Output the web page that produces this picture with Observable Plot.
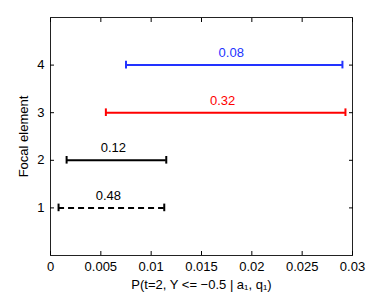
<!DOCTYPE html>
<html><head><meta charset="utf-8">
<script src="https://cdn.jsdelivr.net/npm/d3@7"></script>
<script src="https://cdn.jsdelivr.net/npm/@observablehq/plot@0.6"></script>
<style>body{margin:0;background:#fff;} svg{font-family:"Liberation Sans",Arial,sans-serif;}</style>
</head><body><div id="chart"></div>
<script>
const elements = [1, 2, 3, 4];
const lower = [0.0008, 0.0016, 0.0055, 0.0075];
const upper = [0.0113, 0.0115, 0.0293, 0.0290];
const masses = ["0.48", "0.12", "0.32", "0.08"];
const xTicks = [0, 0.005, 0.01, 0.015, 0.02, 0.025, 0.03];
const xTickLabels = ["0", "0.005", "0.01", "0.015", "0.02", "0.025", "0.03"];
const yTicks = [1, 2, 3, 4];
const yTickLabels = ["1", "2", "3", "4"];

const rows = elements.map((e, i) => ({element: e, lo: lower[i], hi: upper[i], mass: masses[i]}));
const colorScale = {type: "ordinal", domain: elements, range: ["#000000", "#000000", "#ff0000", "#2233ff"]};
const cap = 0.08;

const chart = Plot.plot({
  width: 388, height: 292,
  marginLeft: 50, marginRight: 36, marginTop: 17, marginBottom: 37,
  style: {fontSize: "13px", fontFamily: "Liberation Sans, Arial, sans-serif", color: "#000"},
  x: {domain: [0, 0.03]},
  y: {domain: [0, 5]},
  color: colorScale,
  marks: [
    Plot.frame({stroke: "#222", strokeWidth: 1}),
    Plot.axisX({ticks: xTicks, tickFormat: d => xTickLabels[xTicks.indexOf(d)], tickSize: -4, tickPadding: 10, label: "P(t=2, Y <= \u22120.5 | a\u2081, q\u2081)", labelAnchor: "center", labelArrow: "none", labelOffset: 33, fontSize: 13}),
    Plot.axisX({anchor: "top", ticks: xTicks, tickFormat: () => "", tickSize: -4, label: null}),
    Plot.axisY({ticks: yTicks, tickFormat: d => yTickLabels[yTicks.indexOf(d)], tickSize: -4, tickPadding: 10, label: "Focal element", labelAnchor: "center", labelArrow: "none", labelOffset: 32, fontSize: 13}),
    Plot.axisY({anchor: "right", ticks: yTicks, tickFormat: () => "", tickSize: -4, label: null}),
    Plot.ruleY(rows.filter(d => d.element !== 1), {y: "element", x1: "lo", x2: "hi", stroke: "element", strokeWidth: 2}),
    Plot.ruleY(rows.filter(d => d.element === 1), {y: "element", x1: "lo", x2: "hi", stroke: "element", strokeWidth: 2, strokeDasharray: "6,4"}),
    Plot.ruleX(rows, {x: "lo", y1: d => d.element - cap, y2: d => d.element + cap, stroke: "element", strokeWidth: 2}),
    Plot.ruleX(rows, {x: "hi", y1: d => d.element - cap, y2: d => d.element + cap, stroke: "element", strokeWidth: 2}),
    Plot.text(rows, {x: d => (d.lo + d.hi) / 2, y: "element", text: "mass", fill: "element", dy: -12, dx: -3, fontSize: 13})
  ]
});
document.getElementById("chart").appendChild(chart);
</script></body></html>
